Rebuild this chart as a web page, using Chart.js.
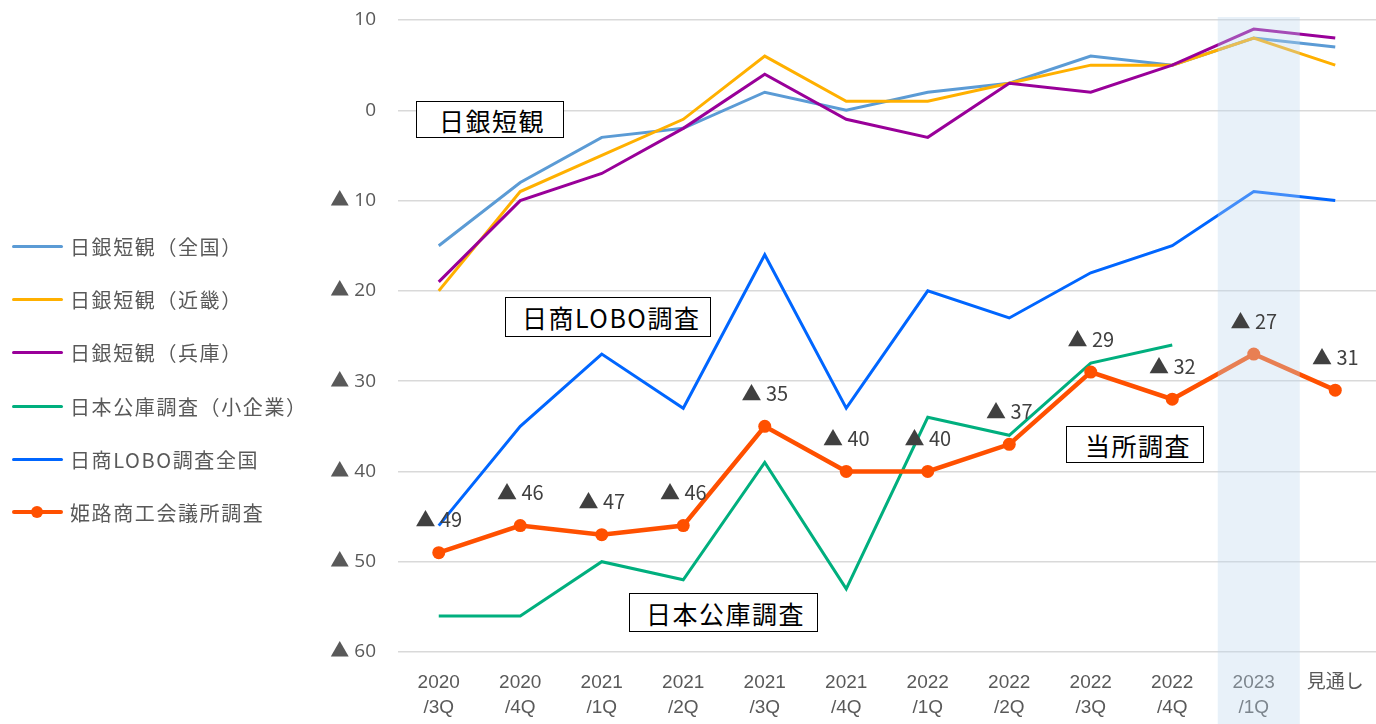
<!DOCTYPE html>
<html lang="ja">
<head>
<meta charset="utf-8">
<script src="https://cdn.jsdelivr.net/npm/chart.js@4.4.1/dist/chart.umd.min.js"></script>
<style>
    html, body { margin: 0; padding: 0; background: #fff; }
    #wrap { position: relative; width: 1376px; height: 724px; overflow: hidden; }
    #chart { position: absolute; left: 0; top: 0; }
    .legend-item {
        position: absolute; left: 12px; height: 26px;
        display: flex; align-items: center; white-space: nowrap;
        font-family: "Noto Sans CJK JP", sans-serif; font-size: 20px;
        letter-spacing: 1.6px; color: #595959;
    }
    .swatch { position: relative; width: 51px; height: 3px; margin-right: 7px; border-radius: 2px; }
    .swatch .dot { position: absolute; left: 19px; top: -4px; width: 12px; height: 12px; border-radius: 50%; }
    .note {
        position: absolute; box-sizing: border-box; border: 1px solid #000; background: #fff;
        font-family: "Noto Sans CJK JP", sans-serif; font-size: 25px; color: #000;
        letter-spacing: 1.5px; padding-left: 22px; display: flex; align-items: center;
    }
</style>
</head>
<body>
<div id="wrap">
    <canvas id="chart" width="1376" height="724"></canvas>
    <div id="legend"></div>
    <div class="note" style="left:416px; top:101px; width:148px; height:37px;">日銀短観</div>
    <div class="note" style="left:505px; top:297px; width:206px; height:40px; padding-left:16px;">日商LOBO調査</div>
    <div class="note" style="left:629px; top:593px; width:189px; height:39px; padding-left:16px;">日本公庫調査</div>
    <div class="note" style="left:1066px; top:426px; width:138px; height:37px; padding-left:18px;">当所調査</div>
</div>
<script>
// categories
const quarters = [
    ['2020', '/3Q'], ['2020', '/4Q'], ['2021', '/1Q'], ['2021', '/2Q'],
    ['2021', '/3Q'], ['2021', '/4Q'], ['2022', '/1Q'], ['2022', '/2Q'],
    ['2022', '/3Q'], ['2022', '/4Q'], ['2023', '/1Q'], '見通し'
];

// series (negative = ▲)
const tankanZenkoku = [-15, -8, -3, -2, 2, 0, 2, 3, 6, 5, 8, 7];
const tankanKinki   = [-20, -9, -5, -1, 6, 1, 1, 3, 5, 5, 8, 5];
const tankanHyogo   = [-19, -10, -7, -2, 4, -1, -3, 3, 2, 5, 9, 8];
const kokoSmall     = [-56, -56, -50, -52, -39, -53, -34, -36, -28, -26, null, null];
const loboZenkoku   = [-46, -35, -27, -33, -16, -33, -20, -23, -18, -15, -9, -10];
const himejiCCI     = [-49, -46, -47, -46, -35, -40, -40, -37, -29, -32, -27, -31];

const seriesNames = ['日銀短観（全国）', '日銀短観（近畿）', '日銀短観（兵庫）', '日本公庫調査（小企業）', '日商LOBO調査全国', '姫路商工会議所調査'];
const seriesColors = ['#5B9BD5', '#FFB000', '#990099', '#00AF7E', '#0066FF', '#FF5000'];

const yMin = -60, yMax = 10, yStep = 10;
const highlightIndex = 10; // 2023/1Q

function fmtDI(v) {
    return v < 0 ? '▲ ' + Math.abs(v) : String(v);
}

// legend (html)
const legendEl = document.getElementById('legend');
const legendCenters = [246, 299, 352, 406, 459, 512];
seriesNames.forEach((name, i) => {
    const item = document.createElement('div');
    item.className = 'legend-item';
    item.style.top = (legendCenters[i] - 13) + 'px';
    const sw = document.createElement('span');
    sw.className = 'swatch';
    sw.style.background = seriesColors[i];
    if (i === 5) {
        sw.style.height = '4px';
        const dot = document.createElement('span');
        dot.className = 'dot';
        dot.style.background = seriesColors[i];
        sw.appendChild(dot);
    }
    item.appendChild(sw);
    item.appendChild(document.createTextNode(name));
    legendEl.appendChild(item);
});

// shaded column for 2023/1Q, drawn over the lines
const bandPlugin = {
    id: 'band',
    afterDatasetsDraw(chart) {
        const x = chart.scales.x;
        const cx = x.getPixelForValue(highlightIndex);
        const ctx = chart.ctx;
        ctx.save();
        ctx.fillStyle = 'rgba(189, 215, 238, 0.35)';
        ctx.fillRect(cx - 36, 17, 82, chart.height - 17);
        ctx.restore();
    }
};

// data labels for the 姫路 series
const labelPlugin = {
    id: 'himejiLabels',
    afterDraw(chart) {
        const meta = chart.getDatasetMeta(5);
        const ctx = chart.ctx;
        ctx.save();
        ctx.font = '20px "Noto Sans CJK JP", sans-serif';
        ctx.fillStyle = '#404040';
        ctx.textAlign = 'center';
        ctx.textBaseline = 'middle';
        meta.data.forEach((pt, i) => {
            ctx.fillText(fmtDI(himejiCCI[i]), pt.x, pt.y - 33);
        });
        ctx.restore();
    }
};

function lineSet(label, data, color, extra) {
    return Object.assign({
        label: label,
        data: data,
        borderColor: color,
        backgroundColor: color,
        borderWidth: 3,
        pointRadius: 0,
        tension: 0,
        fill: false
    }, extra || {});
}

new Chart(document.getElementById('chart'), {
    type: 'line',
    data: {
        labels: quarters,
        datasets: [
            lineSet(seriesNames[0], tankanZenkoku, seriesColors[0], { order: 4 }),
            lineSet(seriesNames[1], tankanKinki, seriesColors[1], { order: 3 }),
            lineSet(seriesNames[2], tankanHyogo, seriesColors[2], { order: 2 }),
            lineSet(seriesNames[3], kokoSmall, seriesColors[3], { order: 5 }),
            lineSet(seriesNames[4], loboZenkoku, seriesColors[4], { order: 1 }),
            lineSet(seriesNames[5], himejiCCI, seriesColors[5], {
                order: 0, borderWidth: 4.5, pointRadius: 6.5, pointBorderWidth: 0
            })
        ]
    },
    options: {
        responsive: false,
        animation: false,
        maintainAspectRatio: false,
        layout: {
            autoPadding: false,
            padding: { top: 20, right: 0, bottom: 0, left: 0 }
        },
        plugins: {
            legend: { display: false },
            title: { display: false },
            tooltip: { enabled: false }
        },
        scales: {
            x: {
                offset: true,
                // invisible ticks just push the labels down
                grid: {
                    display: true, drawOnChartArea: false, drawTicks: true,
                    tickLength: 18, color: 'rgba(0,0,0,0)'
                },
                border: { display: false },
                ticks: {
                    color: '#595959',
                    font: { family: '"Liberation Sans", "Noto Sans CJK JP"', size: 19, lineHeight: 1.32 },
                    padding: 0,
                    maxRotation: 0,
                    autoSkip: false
                },
                afterFit(scale) {
                    scale.height = 72;
                }
            },
            y: {
                min: yMin,
                max: yMax,
                grid: { color: '#D9D9D9', lineWidth: 1.5, drawTicks: false },
                border: { display: false },
                ticks: {
                    stepSize: yStep,
                    color: '#595959',
                    font: { family: '"Open Sans", "Noto Sans CJK JP"', size: 19 },
                    padding: 22,
                    callback: function(value) {
                        return fmtDI(value);
                    }
                },
                afterFit(scale) {
                    scale.width = 398;
                    scale.paddingTop = 0;
                    scale.paddingBottom = 0;
                }
            }
        }
    },
    plugins: [bandPlugin, labelPlugin]
});
</script>
</body>
</html>
